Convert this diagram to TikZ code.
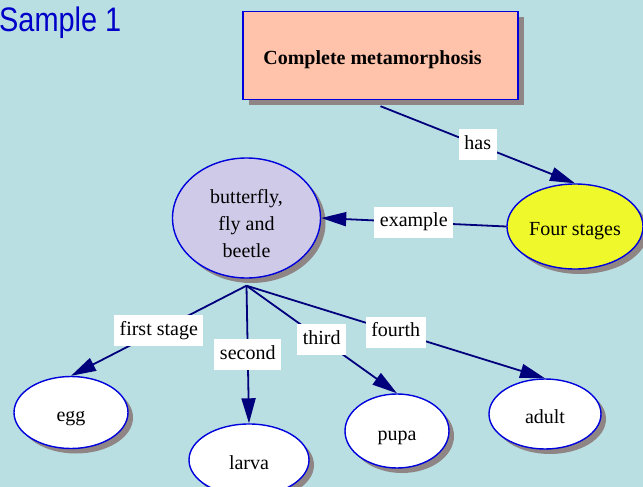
\documentclass[tikz,border=0pt]{standalone}
\usepackage{fontspec}
\setmainfont{Liberation Serif}
\newfontfamily\samplefont{Liberation Sans}
\usetikzlibrary{shapes.geometric,arrows.meta,shadows}
\definecolor{bgc}{RGB}{185,223,227}
\definecolor{peach}{RGB}{255,194,170}
\definecolor{yellowfill}{RGB}{238,248,42}
\definecolor{lavender}{RGB}{207,202,232}
\definecolor{shadowgray}{RGB}{143,133,133}
\definecolor{borderblue}{RGB}{0,0,220}
\definecolor{navyline}{RGB}{0,0,125}
\definecolor{titleblue}{RGB}{0,0,200}
\begin{document}
\begin{tikzpicture}[x=1pt,y=-1pt,
  every node/.style={font=\fontsize{20}{27}\selectfont, text=black},
  shadowed/.style={general shadow={fill=shadowgray, shadow xshift=#1, shadow yshift=-#1}},
  bubble/.style={ellipse, draw=borderblue, line width=1.4pt, inner sep=0pt,
    shadowed=5pt, align=center, text height=18pt, text depth=0pt},
  conceptbox/.style={rectangle, draw=borderblue, line width=1.4pt, fill=peach,
    shadowed=6pt, minimum width=275pt, minimum height=88pt, inner sep=0pt,
    font=\fontsize{20}{24}\selectfont\bfseries, text height=19pt, text depth=0pt},
  conn/.style={draw=navyline, line width=1.8pt, -{Triangle[length=25pt,width=14pt]}},
  lbl/.style={fill=white, inner xsep=5.5pt, inner ysep=6pt, text height=14pt, text depth=5pt, midway}
]
\fill[bgc] (0,0) rectangle (643,487);
\useasboundingbox (0,0) rectangle (643,487);

\node[anchor=base west, inner sep=0pt, font=\samplefont\fontsize{34}{34}\selectfont, text=titleblue] (title) at (-1,32) {\scalebox{0.85}[1]{Sample 1}};

\node[conceptbox] (cm) at (380.5,55.5) {Complete metamorphosis\hspace*{16pt}};
\node[bubble, fill=yellowfill, minimum width=136pt, minimum height=85pt] (four) at (575,226.5) {Four stages};
\node[bubble, fill=lavender, minimum width=148pt, minimum height=120pt, text height=, text depth=] (bfly) at (246.5,218) {\rule{0pt}{26pt}butterfly,\\fly and\\beetle};
\node[bubble, fill=white, minimum width=114pt, minimum height=72pt] (egg) at (71,412.5) {egg};
\node[bubble, fill=white, minimum width=120pt, minimum height=72pt] (larva) at (249,460) {larva};
\node[bubble, fill=white, minimum width=104pt, minimum height=74pt] (pupa) at (397,431) {pupa};
\node[bubble, fill=white, minimum width=112pt, minimum height=70pt] (adult) at (545,414) {adult};

\coordinate (hub) at ([yshift=-7pt]bfly.south);
\coordinate (cmfoot) at ([yshift=-6pt]cm.south);

\draw[conn] (cmfoot) -- node[lbl] (lhas) {has} (four.north);
\draw[conn] (four.west) -- node[lbl] (lex) {example} (bfly.east);
\draw[conn] (hub) -- node[lbl] (l1) {first stage} (egg.north);
\draw[conn] (hub) -- node[lbl] (l2) {second} (larva.north);
\draw[conn] (hub) -- node[lbl] (l3) {third} (pupa.north);
\draw[conn] (hub) -- node[lbl] (l4) {fourth} (adult.north);
\end{tikzpicture}
\end{document}
